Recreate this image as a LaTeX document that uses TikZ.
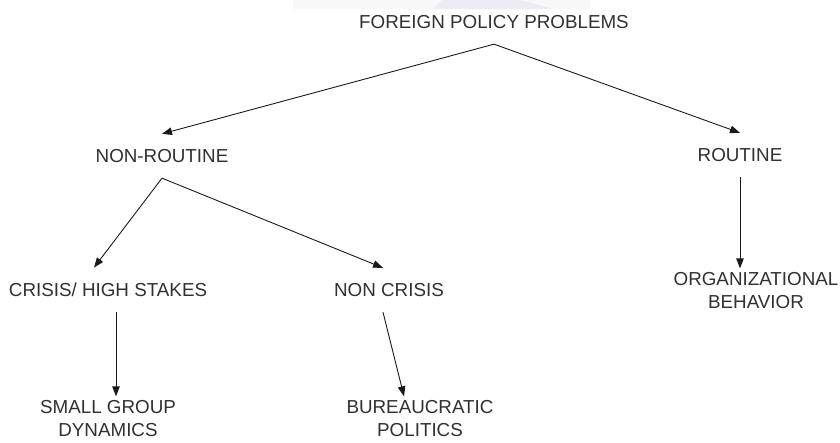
\documentclass[tikz,border=0pt]{standalone}
\usepackage{fontspec}
\setmainfont{Liberation Sans}
\usetikzlibrary{arrows.meta}
\definecolor{txtgray}{RGB}{48,48,48}
\definecolor{linegray}{RGB}{26,26,26}
\definecolor{wmband}{RGB}{248,248,250}
\definecolor{wmtri}{RGB}{236,236,244}
\tikzset{every node/.style={inner sep=0pt, outer xsep=0pt, outer ysep=15.5pt, text=txtgray, font=\fontsize{18.8}{23}\selectfont},
  twoline/.style={align=center, outer ysep=4.5pt},
  link/.style={draw=linegray, line width=0.9pt, -{Triangle[length=10pt,width=7.5pt]}}}

\begin{document}
\begin{tikzpicture}[x=1pt,y=-1pt]
  \useasboundingbox (0,0) rectangle (840,442);
  \fill[wmband] (293,0) rectangle (590,9);
  \fill[wmtri] (433,9) -- (442,0) -- (520,0) -- (553,9) -- cycle;

  \node (problems)   at (494, 22) {FOREIGN POLICY PROBLEMS};
  \node (nonroutine) at (162,156) {NON-ROUTINE};
  \node (routine)    at (740,155) {ROUTINE};
  \node (crisis)     at (108,290) {CRISIS/ HIGH STAKES};
  \node (noncrisis)  at (389,290) {NON CRISIS};
  \node[twoline] (smallgroup) at (108,419) {SMALL GROUP\\DYNAMICS};
  \node[twoline] (bureau)     at (420,419) {BUREAUCRATIC\\POLITICS};
  \node[twoline] (orgbehav)   at (756,291) {ORGANIZATIONAL\\BEHAVIOR};

  \draw[link] (problems.south) -- (nonroutine.north);
  \draw[link] (problems.south) -- (routine.north);
  \draw[link] (nonroutine.south) -- ([xshift=-14pt]crisis.north);
  \draw[link] (nonroutine.south) -- ([xshift=-6pt]noncrisis.north);
  \draw[link] ([xshift=8pt]crisis.south) -- ([xshift=8pt]smallgroup.north);
  \draw[link] ([xshift=-6pt]noncrisis.south) -- ([xshift=-16pt]bureau.north);
  \draw[link] (routine.south) -- ([xshift=-16pt]orgbehav.north);
\end{tikzpicture}
\end{document}
